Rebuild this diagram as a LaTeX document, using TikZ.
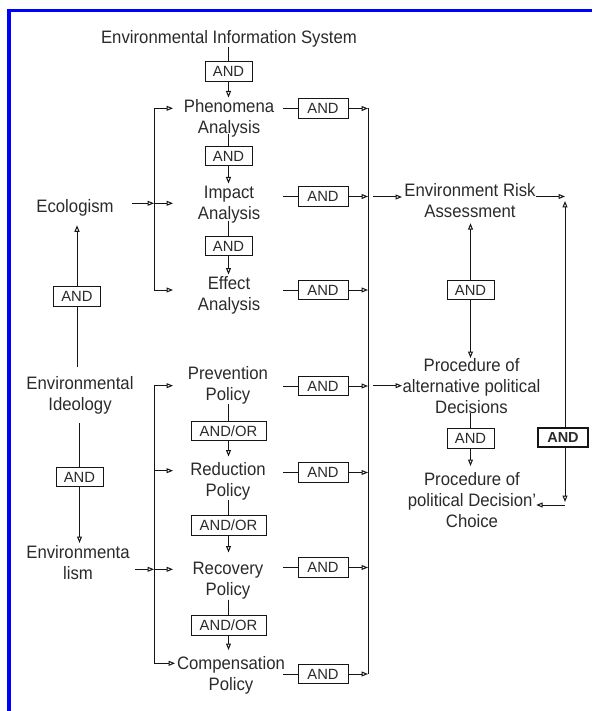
\documentclass[tikz,border=0pt]{standalone}
\usepackage{fontspec}
\setmainfont{Liberation Sans}
\newfontfamily\dgfam[FakeStretch=0.93]{Liberation Sans}
\usetikzlibrary{arrows.meta}
\definecolor{lc}{HTML}{151515}
\definecolor{tc}{HTML}{2A2A2A}
\definecolor{framecol}{RGB}{0,0,255}
\begin{document}
\begin{tikzpicture}[x=1pt,y=-1pt,
  txt/.style={font=\dgfam\fontsize{18}{21}\selectfont, align=center, inner sep=0pt, outer sep=0pt, anchor=north, text=tc},
  andbox/.style={draw=lc, line width=1pt, font=\fontsize{14.8}{17}\selectfont, minimum width=47pt, minimum height=19.5pt, inner sep=0pt, outer sep=0pt, text=tc},
  orbox/.style={andbox, minimum width=75pt},
  rbox/.style={andbox, minimum width=50pt},
  keybox/.style={andbox, line width=1.7pt, minimum width=50pt, font=\bfseries\fontsize{14.5}{17}\selectfont},
  ln/.style={draw=lc, line width=1pt},
  arr/.style={ln, -{Triangle[open,length=6.5pt,width=5pt]}},
]
\useasboundingbox (0,0) rectangle (592,711);
\draw[framecol, line width=3.5pt, line join=miter] (9.2,711) -- (9.2,10.7) -- (592,10.7);

% ---- central analysis column
\node[txt] (eis) at (229,30.5) {Environmental Information System};
\node[andbox] (a1) at (228.5,71.5) {AND};
\node[txt] (phen) at (229,99) {Phenomena\\Analysis};
\node[andbox] (a2) at (228.5,156) {AND};
\node[txt] (imp) at (229,186.5) {Impact\\Analysis};
\node[andbox] (a3) at (228.5,246) {AND};
\node[txt] (eff) at (229,276.5) {Effect\\Analysis};

% ---- left column
\node[txt] (eco) at (75,199) {Ecologism};
\node[andbox] (aeco) at (77,296.5) {AND};
\node[txt] (ideo) at (80,376.5) {Environmental\\Ideology};
\node[andbox] (aideo) at (79.5,477) {AND};
\node[txt] (envism) at (78,545) {Environmenta\\lism};

% ---- policies
\node[txt] (prev) at (228,366.5) {Prevention\\Policy};
\node[orbox] (o1) at (228.5,431) {AND/OR};
\node[txt] (red) at (228,462.5) {Reduction\\Policy};
\node[orbox] (o2) at (228.5,525.5) {AND/OR};
\node[txt] (rec) at (228,562.5) {Recovery\\Policy};
\node[orbox] (o3) at (228.5,625.5) {AND/OR};
\node[txt] (comp) at (231,656.5) {Compensation\\Policy};

% ---- right AND column
\node[rbox] (r1) at (323,108.5) {AND};
\node[rbox] (r2) at (323,196.5) {AND};
\node[rbox] (r3) at (323,290) {AND};
\node[rbox] (r4) at (323,386) {AND};
\node[rbox] (r5) at (323,472.5) {AND};
\node[rbox] (r6) at (323,567.5) {AND};
\node[rbox] (r7) at (323,674) {AND};

% ---- decision column
\node[txt] (era) at (470,183) {Environment Risk\\Assessment};
\node[andbox] (am1) at (470.5,290) {AND};
\node[txt] (papd) at (471.5,358) {Procedure of\\alternative political\\Decisions};
\node[andbox] (am2) at (470.5,438.5) {AND};
\node[txt] (ppdc) at (472,472.5) {Procedure of\\political Decision’\\Choice};
\node[keybox] (ak) at (563,437.5) {AND};

% ---- coordinates
\coordinate (lb1) at (154,108.3);
\coordinate (lb2) at (154,203.3);
\coordinate (lb3) at (154,290);
\coordinate (t1) at (173,108.3);
\coordinate (t2) at (173,203.3);
\coordinate (t3) at (173,290);
\coordinate (e0) at (132,203.3);
\coordinate (pb1) at (154,385.7);
\coordinate (pb2) at (154,470.7);
\coordinate (pb3) at (154,569.3);
\coordinate (pb4) at (154,663.3);
\coordinate (u1) at (173,385.7);
\coordinate (u2) at (173,470.7);
\coordinate (u3) at (173,569.3);
\coordinate (u4) at (175,663.3);
\coordinate (m0) at (135,569.3);
\coordinate (rbt) at (368,108.5);
\coordinate (rbb) at (368,674);
\coordinate (q1) at (373,197);
\coordinate (q1t) at (402,197);
\coordinate (q2) at (373,385.7);
\coordinate (q2t) at (402,385.7);
\coordinate (c1) at (565,196.5);
\coordinate (c2) at (565,201);
\coordinate (c3) at (565,502);
\coordinate (c4) at (565,505);
\foreach \r in {1,...,7} {\coordinate (s\r) at ([xshift=-15pt]r\r.west);}

% ---- analysis column connectors
\draw[ln] (eis.south -| a1.north) -- (a1.north);
\draw[arr, shorten >=1.5pt] (a1.south) -- (a1.south |- phen.north);
\draw[ln, shorten <=-3pt] (a2.north |- phen.south) -- (a2.north);
\draw[arr, shorten >=3pt] (a2.south) -- (a2.south |- imp.north);
\draw[ln, shorten <=-3pt] (a3.north |- imp.south) -- (a3.north);
\draw[arr, shorten >=2pt] (a3.south) -- (a3.south |- eff.north);

% ---- left bracket (analyses)
\draw[ln] (lb1) -- (lb3);
\draw[arr] (lb1) -- (t1);
\draw[arr] (lb2) -- (t2);
\draw[arr] (lb3) -- (t3);
\draw[arr] (e0) -- (lb2);

% ---- left column connectors
\draw[arr, shorten >=9.5pt] (aeco.north) -- (aeco.north |- eco.south);
\draw[ln, shorten >=10pt] (aeco.south) -- (aeco.south |- ideo.north);
\draw[ln, shorten <=9pt] (aideo.north |- ideo.south) -- (aideo.north);
\draw[arr, shorten >=2pt] (aideo.south) -- (aideo.south |- envism.north);

% ---- policy bracket
\draw[ln] (pb1) -- (pb4);
\draw[arr] (pb1) -- (u1);
\draw[arr] (pb2) -- (u2);
\draw[arr] (pb3) -- (u3);
\draw[arr] (pb4) -- (u4);
\draw[arr] (m0) -- (pb3);

% ---- policy column connectors
\draw[ln] (o1.north |- prev.south) -- (o1.north);
\draw[arr, shorten >=6pt] (o1.south) -- (o1.south |- red.north);
\draw[ln] (o2.north |- red.south) -- (o2.north);
\draw[arr, shorten >=10pt] (o2.south) -- (o2.south |- rec.north);
\draw[ln] (o3.north |- rec.south) -- (o3.north);
\draw[arr, shorten >=6.5pt] (o3.south) -- (o3.south |- comp.north);

% ---- right AND column
\foreach \r in {1,...,7} {
  \draw[ln] (s\r) -- (r\r.west);
  \draw[arr] (r\r.east) -- (r\r.east -| rbt);
}
\draw[ln] (rbt) -- (rbb);
\draw[arr] (q1) -- (q1t);
\draw[arr] (q2) -- (q2t);

% ---- decision column
\draw[arr] (era.east |- c1) -- (c1);
\draw[arr] (ak.north -| c2) -- (c2);
\draw[arr] (ak.south -| c3) -- (c3);
\draw[arr] (c4) -- (c4 -| ppdc.east);
\draw[arr, shorten >=6pt] (am1.north) -- (am1.north |- era.south);
\draw[arr] (am1.south) -- (am1.south |- papd.north);
\draw[ln] (papd.south -| am2.north) -- (am2.north);
\draw[arr, shorten >=6.5pt] (am2.south) -- (am2.south |- ppdc.north);
\end{tikzpicture}
\end{document}
